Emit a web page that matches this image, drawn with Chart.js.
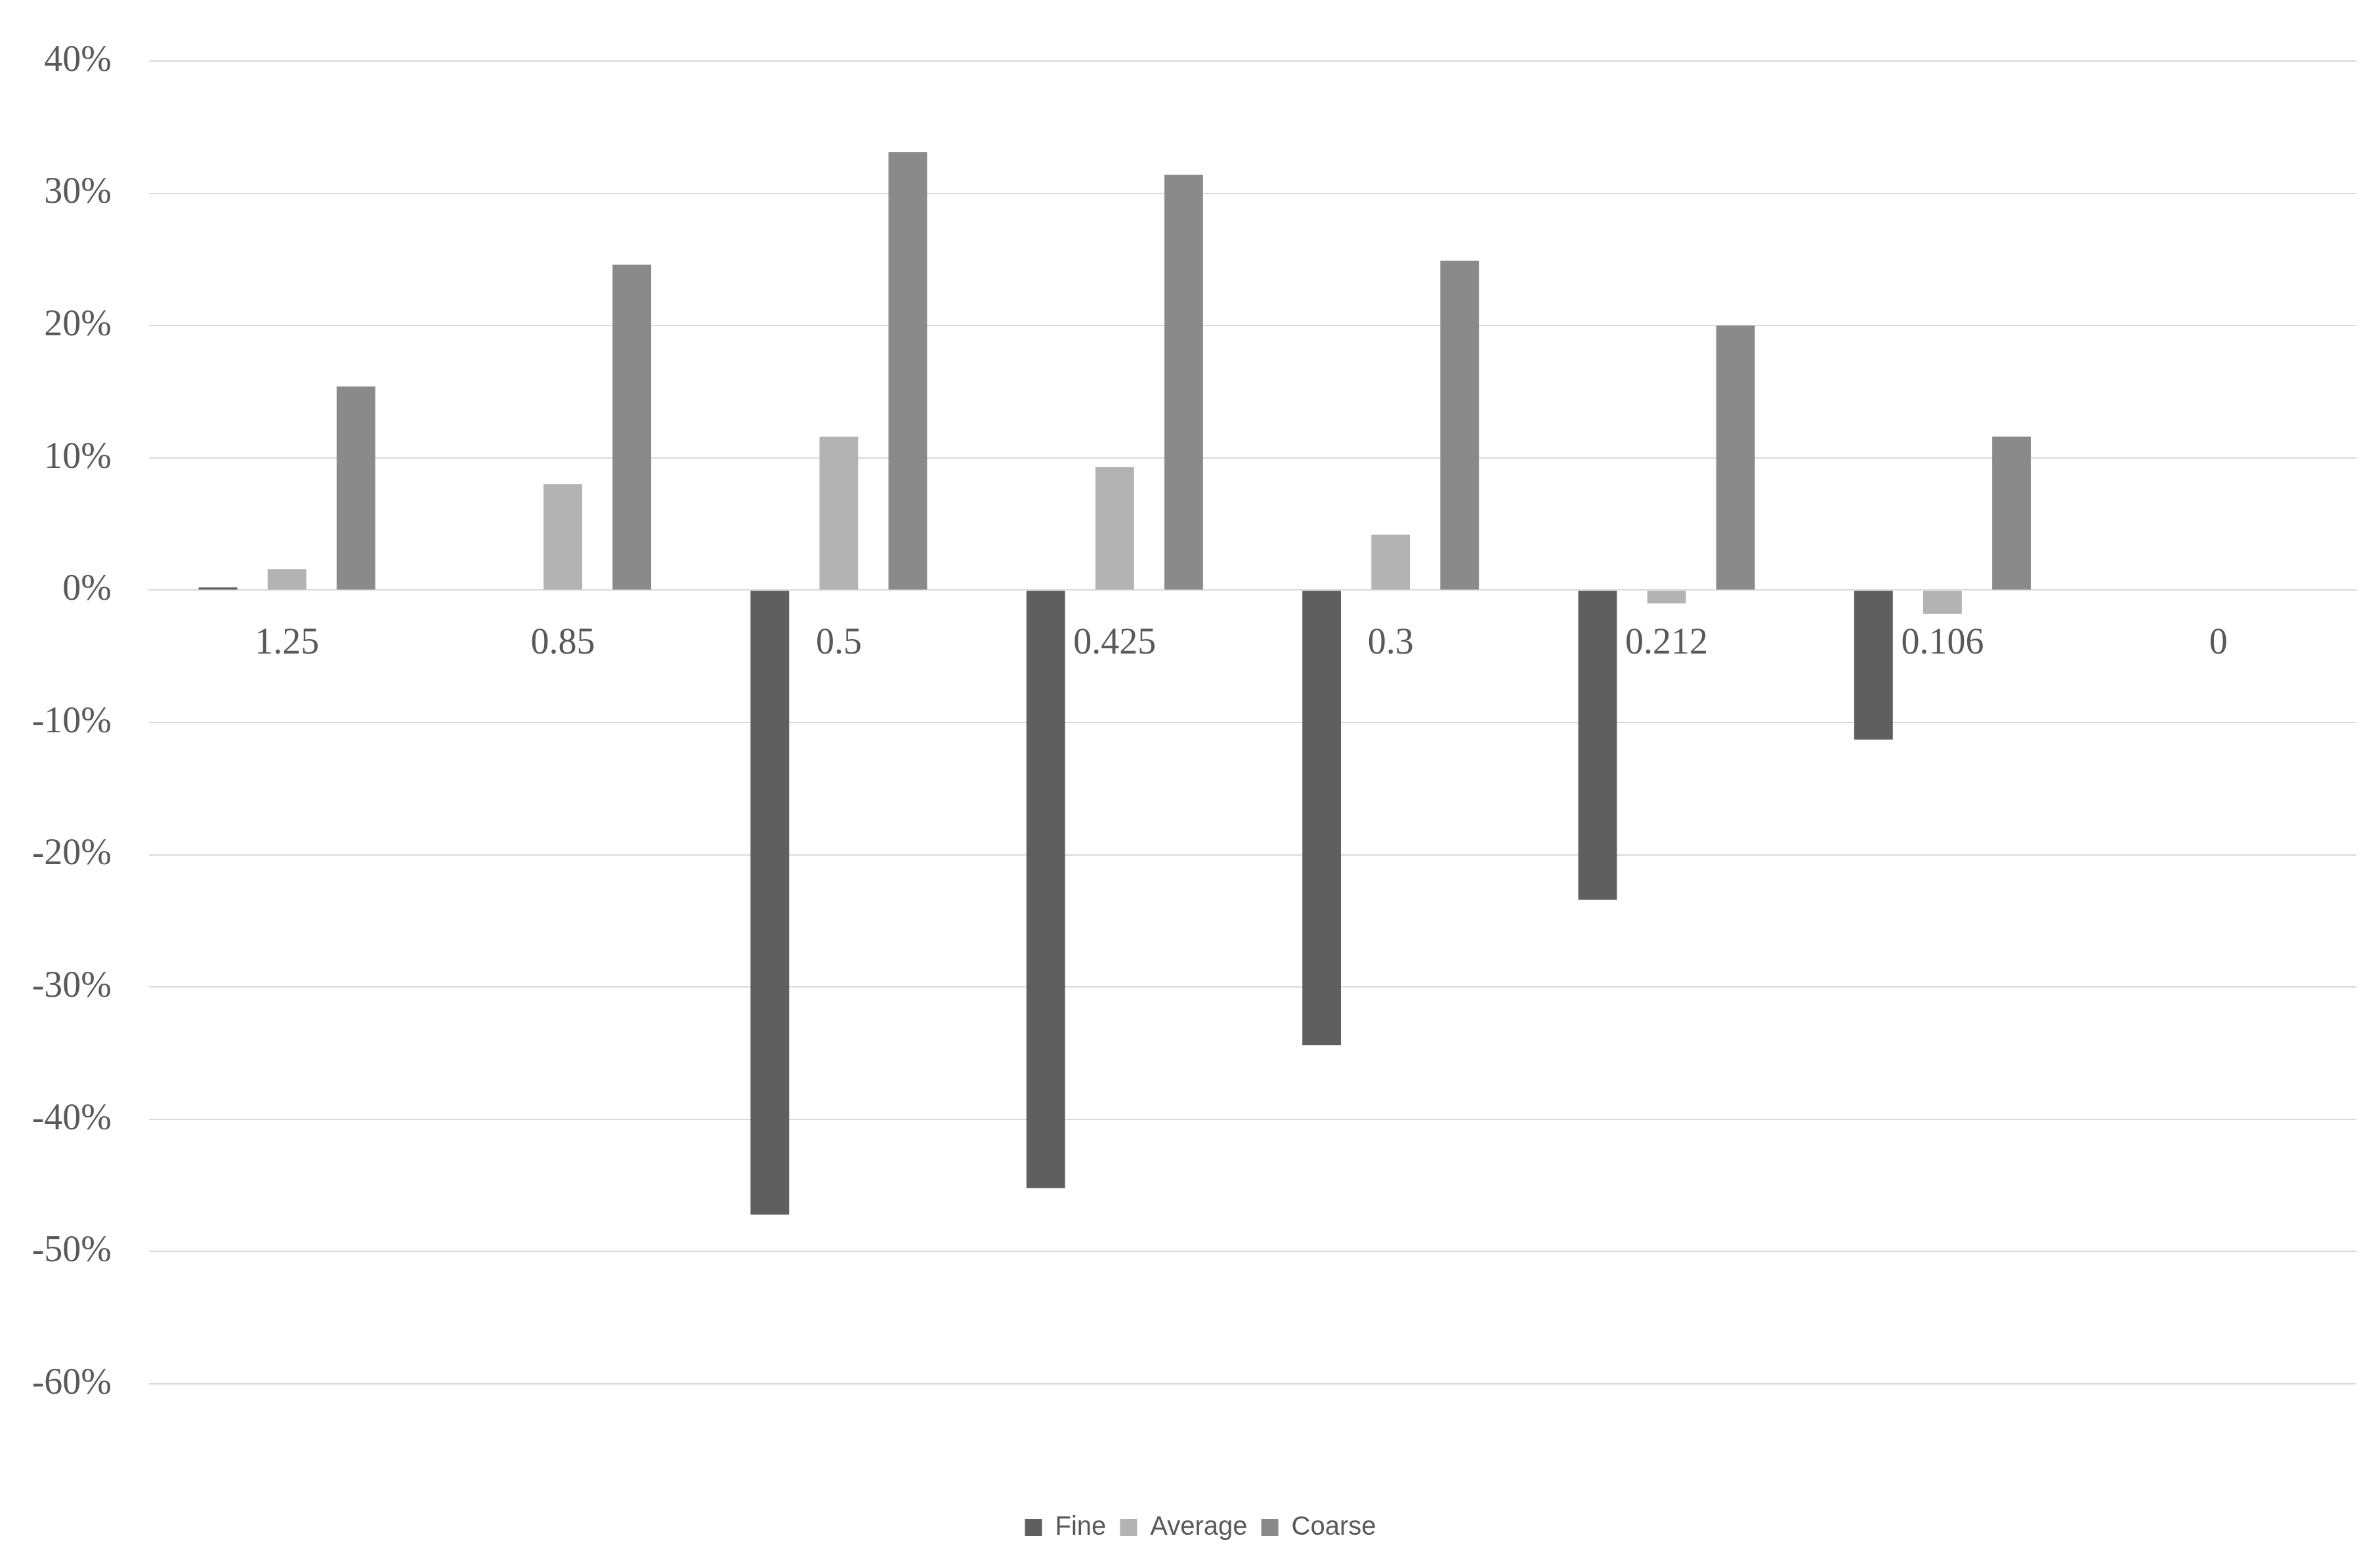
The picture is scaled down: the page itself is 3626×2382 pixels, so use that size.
<!DOCTYPE html>
<html>
<head>
<meta charset="utf-8">
<script src="https://cdn.jsdelivr.net/npm/chart.js@4.4.1/dist/chart.umd.min.js"></script>
<style>
  html, body { margin: 0; padding: 0; background: #ffffff; }
  canvas { display: block; }
</style>
</head>
<body>
<canvas id="myChart" width="3626" height="2382"></canvas>
<script>
// sieve sizes (mm)
var sizes = ['1.25', '0.85', '0.5', '0.425', '0.3', '0.212', '0.106', '0'];

// deviation in %
var fine = [0.2, 0, -47.2, -45.2, -34.4, -23.4, -11.3, 0];
var average = [1.6, 8.0, 11.6, 9.3, 4.2, -1.0, -1.8, 0];
var coarse = [15.4, 24.6, 33.1, 31.4, 24.9, 20.0, 11.6, 0];

var serif = "'Liberation Serif', 'DejaVu Serif', serif";
var narrow = "'Liberation Sans Narrow', 'Liberation Sans', 'Noto Sans', sans-serif";

// legend sits a little right of the page centre in the original
var legendShift = {
    id: 'legendShift',
    afterLayout: function (chart) {
        chart.legend.left += 34;
        chart.legend.right += 34;
    }
};

var ctx = document.getElementById('myChart');
var myChart = new Chart(ctx, {
    type: 'bar',
    data: {
        labels: sizes,
        datasets: [{
            label: 'Fine',
            data: fine,
            backgroundColor: '#5f5f5f',
            borderWidth: 0
        },
        {
            label: 'Average',
            data: average,
            backgroundColor: '#b3b3b3',
            borderWidth: 0
        },
        {
            label: 'Coarse',
            data: coarse,
            backgroundColor: '#8a8a8a',
            borderWidth: 0
        }]
    },
    options: {
        responsive: false,
        animation: false,
        events: [],
        categoryPercentage: 0.75,
        barPercentage: 0.56,
        layout: {
            padding: { left: 0, right: 36, top: 93, bottom: 24 }
        },
        scales: {
            x: {
                position: { y: 0 },
                grid: { display: false, drawTicks: false },
                border: { display: true, color: '#d9d9d9', width: 2 },
                ticks: {
                    color: '#595959',
                    padding: 48,
                    maxRotation: 0,
                    autoSkip: false,
                    font: { family: serif, size: 56 }
                }
            },
            y: {
                min: -60,
                max: 40,
                grid: { color: '#d9d9d9', lineWidth: 2, drawTicks: false },
                border: { display: false },
                afterFit: function (scale) { scale.width = 227; },
                ticks: {
                    stepSize: 10,
                    color: '#595959',
                    padding: 57,
                    font: { family: serif, size: 56 },
                    callback: function (v) { return v + '%'; }
                }
            }
        },
        plugins: {
            tooltip: { enabled: false },
            legend: {
                position: 'bottom',
                title: {
                    display: true,
                    text: '',
                    font: { size: 10 },
                    padding: { top: 0, bottom: 166 }
                },
                labels: {
                    boxWidth: 26,
                    boxHeight: 26,
                    padding: 21,
                    color: '#595959',
                    font: { family: narrow, size: 40 }
                }
            }
        }
    },
    plugins: [legendShift]
});
</script>
</body>
</html>
